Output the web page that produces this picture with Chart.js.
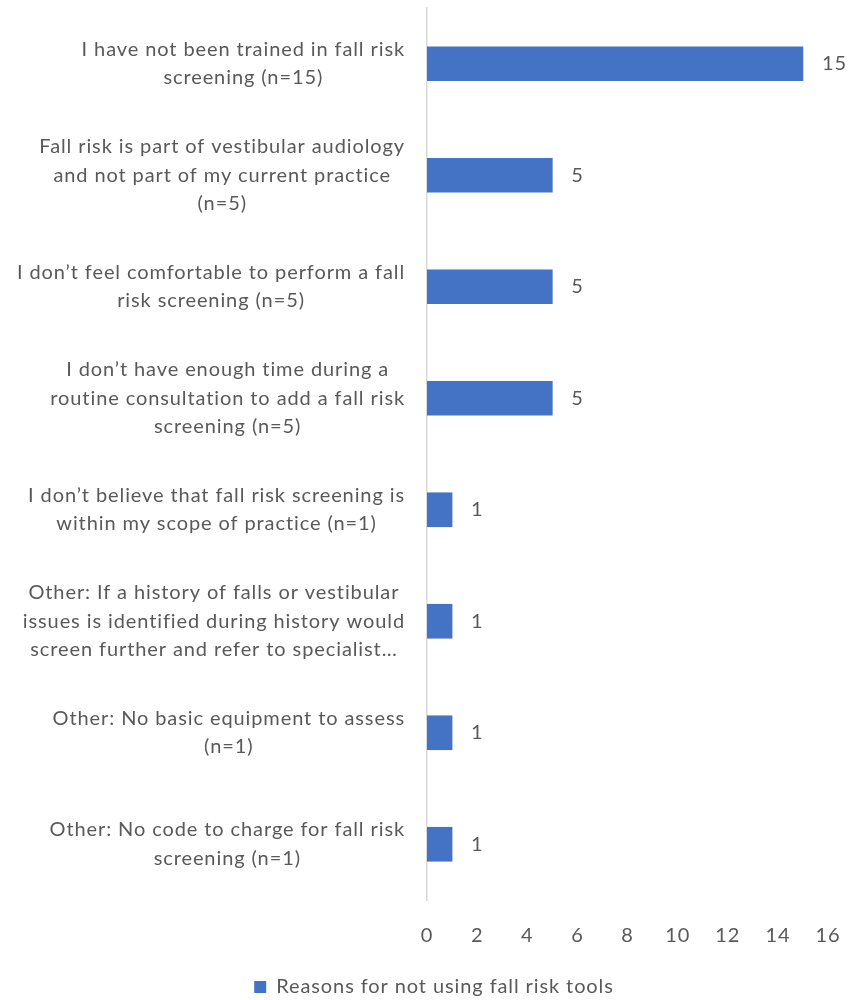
<!DOCTYPE html>
<html>
<head>
<meta charset="utf-8">
<script src="https://cdn.jsdelivr.net/npm/chart.js@4/dist/chart.umd.min.js"></script>
<style>
  html, body { margin: 0; padding: 0; background: #fff; }
  canvas { display: block; }
</style>
</head>
<body>
<canvas id="reasonsChart" width="854" height="1000"></canvas>
<script>
const reasonLabels = [
  ['I have not been trained in fall risk', 'screening (n=15)'],
  ['Fall risk is part of vestibular audiology', 'and not part of my current practice', '(n=5)'],
  ['I don\u2019t feel comfortable to perform a fall', 'risk screening (n=5)'],
  ['I don\u2019t have enough time during a', 'routine consultation to add a fall risk', 'screening (n=5)'],
  ['I don\u2019t believe that fall risk screening is', 'within my scope of practice (n=1)'],
  ['Other: If a history of falls or vestibular', 'issues is identified during history would', 'screen further and refer to specialist\u2026'],
  ['Other: No basic equipment to assess', '(n=1)'],
  ['Other: No code to charge for fall risk', 'screening (n=1)']
];
const reasonCounts = [15, 5, 5, 5, 1, 1, 1, 1];
const seriesName = 'Reasons for not using fall risk tools';
const xTicks = [0, 2, 4, 6, 8, 10, 12, 14, 16];

const FONT = 'Lato, "Open Sans", sans-serif';
const TEXT = '#595959';
const SPACING = '0.9px';

// slightly open letter spacing on every text the chart measures and draws
const letterSpacing = {
  id: 'letterSpacing',
  beforeLayout(chart) { chart.ctx.letterSpacing = SPACING; },
  beforeDraw(chart) { chart.ctx.letterSpacing = SPACING; }
};

// category labels: each block right-aligned against the axis, lines centred within it
const categoryText = {
  id: 'categoryText',
  afterDraw(chart) {
    const { ctx, scales: { y } } = chart;
    ctx.save();
    ctx.font = '20px ' + FONT;
    ctx.fillStyle = TEXT;
    ctx.textAlign = 'center';
    ctx.textBaseline = 'middle';
    const lineH = 28.5;
    const right = 405;
    reasonLabels.forEach((lines, i) => {
      const cy = y.getPixelForValue(i);
      const maxW = Math.max(...lines.map(l => ctx.measureText(l).width));
      const cx = right - maxW / 2;
      const top = cy - (lines.length - 1) * lineH / 2;
      lines.forEach((l, k) => ctx.fillText(l, cx, top + k * lineH));
    });
    ctx.restore();
  }
};

// value labels just past the end of each bar
const valueText = {
  id: 'valueText',
  afterDatasetsDraw(chart) {
    const { ctx } = chart;
    const meta = chart.getDatasetMeta(0);
    ctx.save();
    ctx.font = '20px ' + FONT;
    ctx.fillStyle = TEXT;
    ctx.textAlign = 'left';
    ctx.textBaseline = 'middle';
    meta.data.forEach((bar, i) => {
      ctx.fillText(String(reasonCounts[i]), bar.x + 19, bar.y);
    });
    ctx.restore();
  }
};

new Chart(document.getElementById('reasonsChart'), {
  type: 'bar',
  data: {
    labels: reasonLabels.map(l => l.join(' ')),
    datasets: [{
      label: seriesName,
      data: reasonCounts,
      backgroundColor: '#4472C4',
      borderWidth: 0,
      barThickness: 34
    }]
  },
  options: {
    indexAxis: 'y',
    responsive: false,
    animation: false,
    layout: { padding: { top: 8, right: 0, bottom: -7, left: 14 } },
    plugins: {
      legend: {
        position: 'bottom',
        labels: {
          color: TEXT,
          font: { family: FONT, size: 20 },
          boxWidth: 12,
          boxHeight: 12,
          padding: 0
        }
      },
      tooltip: { enabled: false }
    },
    scales: {
      x: {
        min: 0,
        max: 16,
        afterBuildTicks(scale) { scale.ticks = xTicks.map(v => ({ value: v })); },
        grid: { display: false, drawTicks: false },
        border: { display: false },
        ticks: { color: TEXT, font: { family: FONT, size: 20 }, padding: 24 },
        afterFit(scale) {
          scale.height = 77;
          scale.paddingLeft = 0;
          scale.paddingRight = 26;
        }
      },
      y: {
        grid: { display: false, drawTicks: false },
        border: { display: true, color: '#D9D9D9', width: 1.5 },
        ticks: { display: false },
        afterFit(scale) { scale.width = 413; }
      }
    }
  },
  plugins: [letterSpacing, categoryText, valueText]
});
</script>
</body>
</html>
